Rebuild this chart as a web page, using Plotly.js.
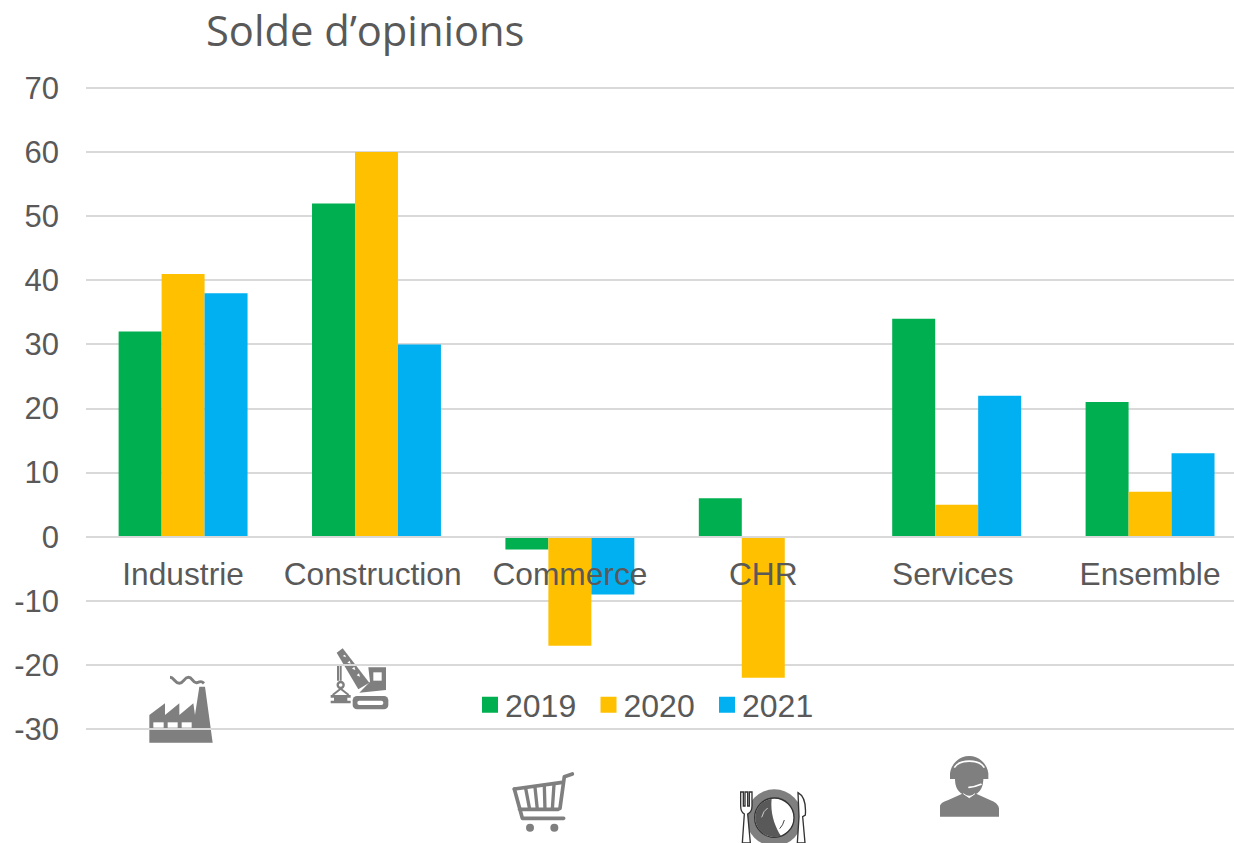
<!DOCTYPE html>
<html>
<head>
<meta charset="utf-8">
<script src="https://cdn.plot.ly/plotly-3.0.1.min.js"></script>
<style>html,body{margin:0;padding:0;background:#fff;overflow:hidden}#chart{width:1234px;height:843px}</style>
</head>
<body>
<div id="chart"></div>
<script>
const categories = ["Industrie","Construction","Commerce","CHR","Services","Ensemble"];
const categoryPositions = [0,1,2,3,4,5];
const labelPositions = [0,0.98,2,3,3.98,5];
const values2019 = [32,52,-2,6,34,21];
const values2020 = [41,60,-17,-22,5,7];
const values2021 = [38,30,-9,null,22,13];
const yTickValues = [-30,-20,-10,0,10,20,30,40,50,60,70];
const yTickLabels = ["-30","-20","-10","0","10","20","30","40","50","60","70"];
const titleText = "Solde d’opinions";

const W=1234,H=843,L=86,T=87,PW=W-L,PH=643;
const grey="#7f7f7f", txt="#595959", grid="#d9d9d9";

function icon(cx,cy,cw,ch,inner){
  const svg=`<svg xmlns="http://www.w3.org/2000/svg" viewBox="0 0 ${cw*3} ${ch*3}" width="${cw*3}" height="${ch*3}">${inner}</svg>`;
  return {source:"data:image/svg+xml;charset=utf-8,"+encodeURIComponent(svg),xref:"paper",yref:"paper",
    x:(cx-L)/PW,y:(T+PH-cy)/PH,sizex:cw/PW,sizey:ch/PH,xanchor:"left",yanchor:"top",sizing:"stretch",layer:"below"};
}
const factory=`<path fill="${grey}" d="M28 218V135L75 100V135L118 100V135L160 100L165 135L178 50H195L218 218Z"/>
<path d="M90 22C102 22 105 40 118 40S132 22 145 22S158 40 170 38S182 30 192 40" fill="none" stroke="${grey}" stroke-width="9"/>
<g fill="#fff"><rect x="40" y="157" width="31" height="16"/><rect x="83" y="157" width="30" height="16"/><rect x="125" y="157" width="30" height="16"/></g>`;
const crane=`<g fill="${grey}">
<path d="M50 38L68 25L148 128L115 148Z"/>
<path d="M145 82H198V150L118 158L150 125Z"/>
<rect x="98" y="168" width="107" height="40" rx="13"/>
<path d="M32 165H92V173H82V182H92V190H32V182H42V173H32Z"/>
<path d="M54 75V122M62 75V122" stroke="${grey}" stroke-width="6"/>
<circle cx="62" cy="135" r="9" fill="none" stroke="${grey}" stroke-width="7"/>
<path d="M62 146L38 165M62 146L86 165" stroke="${grey}" stroke-width="6" fill="none"/>
</g><g fill="#fff"><rect x="160" y="97" width="25" height="25"/><rect x="112" y="182" width="78" height="13" rx="6"/>
<path d="M68 48L75 44L78 52ZM82 68L89 62L92 71ZM96 86L103 80L106 90ZM110 106L117 100L120 110Z"/></g>`;
const cart=`<g fill="none" stroke="${grey}" stroke-width="11" stroke-linecap="round" stroke-linejoin="round">
<path d="M202 27L178 35L165 130"/>
<path d="M28 72L172 52"/>
<path d="M28 72L52 160H176"/>
<path d="M44 133H160"/>
<path d="M62 70L74 133M90 67L97 133M118 63L120 133M147 58L142 133" stroke-width="10"/>
</g><circle cx="75" cy="188" r="12" fill="${grey}"/><circle cx="148" cy="188" r="12" fill="${grey}"/>`;
const plate=`<circle cx="148" cy="113" r="85" fill="${grey}"/>
<circle cx="148" cy="113" r="59" fill="#fff" stroke="#333" stroke-width="4"/>
<path d="M140 56A58 58 0 1 0 168 168C150 140 135 100 140 56Z" fill="#595959"/>
<path d="M128 84Q115 92 110 112" fill="none" stroke="#ccc" stroke-width="3"/>
<path d="M178 120Q174 136 164 146" fill="none" stroke="#444" stroke-width="3"/>
<g fill="#fff" stroke="#333" stroke-width="4">
<path d="M47 36V78Q47 96 58 102L52 189H76L68 102Q81 96 81 78V36H73V78H68V36H60V78H55V36Z"/>
<path d="M219 38Q245 52 241 105L233 110L240 189H217L222 110Z"/>
</g>`;
const agent=`<g fill="${grey}">
<path d="M45 215V182Q48 172 70 165L115 145L133 158L150 145L195 165Q218 172 222 190V215Z"/>
<path d="M75 85A58 60 0 0 1 190 85V102H175V105Q172 150 133 152Q92 150 90 105V102H75Z"/>
</g>
<path d="M88 68A48 30 0 0 1 178 68" fill="none" stroke="#fff" stroke-width="5"/>
<path d="M132 127Q150 126 168 118" fill="none" stroke="#fff" stroke-width="5" stroke-linecap="round"/>
<path d="M115 146L133 158L150 146" fill="none" stroke="#fff" stroke-width="3"/>`;

const images=[
 icon(140,670,85,80,factory),
 icon(320,640,80,80,crane),
 icon(505,765,80,75,cart),
 icon(725,780,95,63,plate),
 icon(925,745,90,80,agent)
];

function series(name,y,color){
  return {type:"bar",name:name,x:categoryPositions,y:y,text:categories,textposition:"none",
    marker:{color:color,line:{width:0}},hovertemplate:"%{text}: %{y}<extra>"+name+"</extra>"};
}
const data=[series("2019",values2019,"#00b050"),series("2020",values2020,"#ffc000"),series("2021",values2021,"#00b0f0")];

const layout={
  width:W,height:H,autosize:false,
  margin:{l:L,r:0,t:T,b:H-T-PH,pad:0},
  paper_bgcolor:"#fff",plot_bgcolor:"rgba(0,0,0,0)",
  font:{family:"Liberation Sans, Arial, sans-serif",size:31,color:txt},
  title:{text:titleText,font:{family:"Open Sans, sans-serif",size:41.7,color:txt},
    xref:"paper",yref:"container",x:(206-L)/PW,xanchor:"left",y:1-31/H,yanchor:"middle",pad:{t:0,b:0,l:0,r:0}},
  barmode:"group",bargap:1/3,bargroupgap:0,
  xaxis:{type:"linear",range:[-0.502,5.434],anchor:"free",position:30.16/100.32,showgrid:false,zeroline:false,
    showline:true,linecolor:grid,linewidth:2,ticks:"",tickmode:"array",tickvals:labelPositions,ticktext:categories,
    ticklabelstandoff:9,tickfont:{size:31.7,color:txt},automargin:false,fixedrange:true},
  yaxis:{range:[-30.16,70.16],tickmode:"array",tickvals:yTickValues,ticktext:yTickLabels,showgrid:true,gridcolor:grid,gridwidth:2,
    zeroline:false,showline:false,ticks:"",ticklabelstandoff:26,tickfont:{size:31,color:txt},automargin:false,fixedrange:true},
  legend:{orientation:"h",x:(465-L)/PW,xanchor:"left",y:(T+PH-705)/PH,yanchor:"middle",bgcolor:"rgba(0,0,0,0)",
    font:{size:32,color:txt},itemwidth:30,entrywidth:73.5,entrywidthmode:"pixels",traceorder:"normal",itemclick:false,itemdoubleclick:false},
  images:images
};
Plotly.newPlot("chart",data,layout,{displayModeBar:false,responsive:false}).then(function(gd){
  gd.querySelectorAll(".legend .legendpoints path").forEach(function(p){
    const t=p.getAttribute("transform")||"";
    p.setAttribute("transform",t+" translate(5,0) scale(1.333)");
  });
});
</script>
</body>
</html>
